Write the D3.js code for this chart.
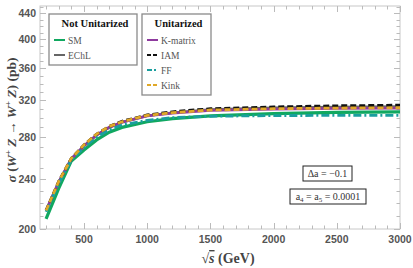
<!DOCTYPE html>
<html>
<head>
<meta charset="utf-8">
<script src="https://cdn.jsdelivr.net/npm/d3@7"></script>
<style>
  body { margin: 0; background: #fff; }
  svg { display: block; }
</style>
</head>
<body>
<svg id="vis" width="413" height="268"></svg>
<script>
// sqrt(s) sample points in GeV
var energies = [200, 300, 400, 500, 600, 700, 800, 1000, 1200, 1500, 2000, 2500, 3000];

// cross sections in pb
var smValues      = [207.5, 232, 256.5, 267, 277, 285, 290, 296, 299.5, 302.5, 305, 306.3, 307];
var echlValues    = [214, 237.5, 258.5, 271, 282, 290, 295.5, 302.5, 306, 309.5, 311.5, 312.5, 313];
var kmatrixValues = [214, 237.5, 258.5, 271, 282, 290, 295.5, 302.5, 305.5, 308.5, 310, 310.8, 311.2];
var iamValues     = [214, 238, 259, 272, 283, 291, 296.5, 303.5, 307, 310.5, 312.5, 313.8, 314.5];
var ffValues      = [213, 236, 257.5, 269.5, 280, 287.5, 292.5, 297.5, 300.5, 302, 302.8, 303, 303];
var kinkValues    = [214, 238, 259, 272, 283, 291, 296, 303, 306, 309, 310.5, 311.2, 311.6];

var xTicks = [500, 1000, 1500, 2000, 2500, 3000];
var yTicks = [200, 240, 280, 320, 360, 400, 440];

var series = [
  {name: "SM",       values: smValues,      color: "#10a860", width: 3.2, dash: null},
  {name: "EChL",     values: echlValues,    color: "#666666", width: 2.5, dash: null},
  {name: "K-matrix", values: kmatrixValues, color: "#8e3a9e", width: 2.8, dash: null},
  {name: "IAM",      values: iamValues,     color: "#111111", width: 2.8, dash: "6,3"},
  {name: "FF",       values: ffValues,      color: "#1a9e9e", width: 2.8, dash: "8,3,2,3"},
  {name: "Kink",     values: kinkValues,    color: "#e0a828", width: 2.8, dash: "6,3"}
];

var svg = d3.select("#vis");
var plot = {left: 40, right: 400, top: 6, bottom: 229};

var x = d3.scaleLinear().domain([152, 3000]).range([plot.left, plot.right]);
var y = d3.scaleLog().domain([200, 452]).range([plot.bottom, plot.top]);

var tickColor = "#bbbbbb";
var labelColor = "#555555";

// frame
svg.append("rect")
    .attr("x", plot.left).attr("y", plot.top)
    .attr("width", plot.right - plot.left).attr("height", plot.bottom - plot.top)
    .attr("fill", "none").attr("stroke", "#c8c8c8").attr("stroke-width", 1);

// minor + major ticks, all four sides, pointing in
var xMinor = d3.range(200, 3001, 100);
var yMinor = d3.range(200, 451, 10);

var ticks = svg.append("g").attr("stroke", tickColor).attr("stroke-width", 1);
xMinor.forEach(function(v) {
    var major = v % 500 === 0;
    var len = major ? 6 : 3.5;
    var px = Math.round(x(v)) + 0.5;
    ticks.append("line").attr("x1", px).attr("x2", px).attr("y1", plot.bottom).attr("y2", plot.bottom - len);
    ticks.append("line").attr("x1", px).attr("x2", px).attr("y1", plot.top).attr("y2", plot.top + len);
});
yMinor.forEach(function(v) {
    var major = (v - 200) % 40 === 0;
    var len = major ? 6 : 3.5;
    var py = Math.round(y(v)) + 0.5;
    ticks.append("line").attr("y1", py).attr("y2", py).attr("x1", plot.left).attr("x2", plot.left + len);
    ticks.append("line").attr("y1", py).attr("y2", py).attr("x1", plot.right).attr("x2", plot.right - len);
});

// tick labels
svg.append("g").selectAll("text").data(xTicks).enter().append("text")
    .attr("x", function(d) { return x(d); })
    .attr("y", plot.bottom + 14)
    .attr("text-anchor", "middle")
    .attr("font-family", "Liberation Sans, Arial, sans-serif")
    .attr("font-weight", "bold")
    .attr("font-size", "10.5px")
    .attr("fill", labelColor)
    .text(function(d) { return d; });

svg.append("g").selectAll("text").data(yTicks).enter().append("text")
    .attr("x", plot.left - 4)
    .attr("y", function(d) { return y(d) + 4; })
    .attr("text-anchor", "end")
    .attr("font-family", "Liberation Sans, Arial, sans-serif")
    .attr("font-weight", "bold")
    .attr("font-size", "10.5px")
    .attr("fill", labelColor)
    .text(function(d) { return d; });

// curves
var clipRect = svg.append("clipPath").attr("id", "clip").append("rect")
    .attr("x", plot.left).attr("y", plot.top)
    .attr("width", plot.right - plot.left).attr("height", plot.bottom - plot.top);

var line = d3.line()
    .x(function(d, i) { return x(energies[i]); })
    .y(function(d) { return y(d); });

svg.append("g").attr("clip-path", "url(#clip)")
  .selectAll("path").data(series).enter().append("path")
    .attr("d", function(d) { return line(d.values); })
    .attr("fill", "none")
    .attr("stroke", function(d) { return d.color; })
    .attr("stroke-width", function(d) { return d.width; })
    .attr("stroke-dasharray", function(d) { return d.dash; });

// axis titles
var serif = "Liberation Serif, Times New Roman, serif";
var xt = svg.append("text")
    .attr("x", 228).attr("y", 263)
    .attr("text-anchor", "middle")
    .attr("font-family", serif)
    .attr("font-weight", "bold")
    .attr("font-size", "14px")
    .attr("fill", "#444");
xt.append("tspan").text("\u221A");
xt.append("tspan").attr("font-style", "italic").attr("text-decoration", "overline").text("s");
xt.append("tspan").text("  (GeV)");

var yt = svg.append("text")
    .attr("transform", "translate(16," + 120 + ") rotate(-90)")
    .attr("text-anchor", "middle")
    .attr("font-family", serif)
    .attr("font-weight", "bold")
    .attr("font-size", "13.5px")
    .attr("fill", "#444");
yt.append("tspan").attr("font-style", "italic").text("\u03C3");
yt.append("tspan").text(" (");
yt.append("tspan").attr("font-style", "italic").text("W");
yt.append("tspan").attr("font-size", "9px").attr("dy", -5).text("+");
yt.append("tspan").attr("dy", 5).text(" ");
yt.append("tspan").attr("font-style", "italic").text("Z");
yt.append("tspan").text(" \u2192 ");
yt.append("tspan").attr("font-style", "italic").text("W");
yt.append("tspan").attr("font-size", "9px").attr("dy", -5).text("+");
yt.append("tspan").attr("dy", 5).text(" ");
yt.append("tspan").attr("font-style", "italic").text("Z");
yt.append("tspan").text(") (pb)");

// legends
function drawLegend(box, title, items) {
    var g = svg.append("g");
    g.append("rect")
        .attr("x", box.x).attr("y", box.y).attr("width", box.w).attr("height", box.h)
        .attr("fill", "#fff").attr("stroke", "#8a8a8a").attr("stroke-width", 1.3);
    g.append("text")
        .attr("x", box.x + box.w / 2 + 2).attr("y", box.y + 13)
        .attr("text-anchor", "middle")
        .attr("font-family", serif).attr("font-weight", "bold").attr("font-size", "10.5px")
        .attr("fill", "#111").text(title);
    items.forEach(function(s, i) {
        var ly = box.y + 26 + i * 15;
        g.append("line")
            .attr("x1", box.x + 5).attr("x2", box.x + 16)
            .attr("y1", ly).attr("y2", ly)
            .attr("stroke", s.color).attr("stroke-width", 2)
            .attr("stroke-dasharray", s.dash ? (s.name === "FF" ? "5,2,2,2" : "4,2") : null);
        g.append("text")
            .attr("x", box.x + 19).attr("y", ly + 3.5)
            .attr("font-family", serif).attr("font-size", "9.5px")
            .attr("fill", "#555").text(s.name);
    });
}

drawLegend({x: 49, y: 14, w: 88, h: 51}, "Not Unitarized", series.slice(0, 2));
drawLegend({x: 142, y: 14, w: 69, h: 81}, "Unitarized", series.slice(2));

// parameter boxes
function infoBox(cx, cy, w, h, build) {
    svg.append("rect")
        .attr("x", cx - w / 2).attr("y", cy - h / 2).attr("width", w).attr("height", h)
        .attr("fill", "#fff").attr("stroke", "#222").attr("stroke-width", 1);
    var t = svg.append("text")
        .attr("x", cx).attr("y", cy + 3.5)
        .attr("text-anchor", "middle")
        .attr("font-family", serif).attr("font-size", "10px").attr("fill", "#333");
    build(t);
}

infoBox(327.5, 173.5, 49, 15, function(t) {
    t.text("\u0394a = \u22120.1");
});
infoBox(328, 196.5, 76, 15, function(t) {
    t.append("tspan").text("a");
    t.append("tspan").attr("font-size", "7px").attr("dy", 2).text("4");
    t.append("tspan").attr("dy", -2).text(" = a");
    t.append("tspan").attr("font-size", "7px").attr("dy", 2).text("5");
    t.append("tspan").attr("dy", -2).text(" = 0.0001");
});
</script>
</body>
</html>
